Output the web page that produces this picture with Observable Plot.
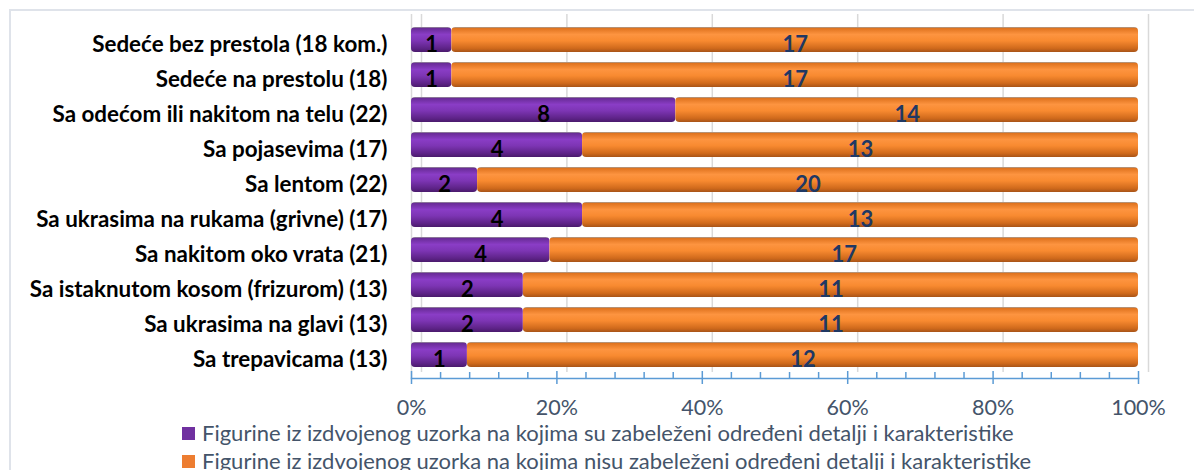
<!DOCTYPE html>
<html>
<head>
<meta charset="utf-8">
<script src="https://cdn.jsdelivr.net/npm/d3@7"></script>
<script src="https://cdn.jsdelivr.net/npm/@observablehq/plot@0.6"></script>
<style>
  html, body { margin: 0; padding: 0; background: #fff; }
  #wrap { position: relative; width: 1194px; height: 470px; overflow: hidden; }
  #frame { position: absolute; left: 9px; top: 9px; width: 1300px; height: 600px; border: 2px solid #dfe3ea; box-sizing: border-box; }
  #chart { position: absolute; left: 0; top: 0; }
  #legend { position: absolute; left: 182px; top: 419px; font-family: "Lato", sans-serif; font-size: 22px; color: #44546a; line-height: 28px; white-space: nowrap; }
  #legend .sw { display: inline-block; width: 13px; height: 13px; margin-right: 7px; vertical-align: 1px; }
</style>
</head>
<body>
<div id="wrap">
  <div id="frame"></div>
  <div id="chart"></div>
  <div id="legend"></div>
</div>
<script>
const categories = [
  "Sedeće bez prestola (18 kom.)",
  "Sedeće na prestolu (18)",
  "Sa odećom ili nakitom na telu (22)",
  "Sa pojasevima (17)",
  "Sa lentom (22)",
  "Sa ukrasima na rukama (grivne) (17)",
  "Sa nakitom oko vrata (21)",
  "Sa istaknutom kosom (frizurom) (13)",
  "Sa ukrasima na glavi (13)",
  "Sa trepavicama (13)"
];
const withDetail    = [1, 1, 8, 4, 2, 4, 4, 2, 2, 1];
const withoutDetail = [17, 17, 14, 13, 20, 13, 17, 11, 11, 12];
const seriesNames = [
  "Figurine iz izdvojenog uzorka na kojima su zabeleženi određeni detalji i karakteristike",
  "Figurine iz izdvojenog uzorka na kojima nisu zabeleženi određeni detalji i karakteristike"
];
const seriesColors = ["#7030a0", "#ed7d31"];
const xTicks = [0, 0.2, 0.4, 0.6, 0.8, 1];
const xMinorTicks = [0.04, 0.08, 0.12, 0.16, 0.24, 0.28, 0.32, 0.36, 0.44, 0.48, 0.52, 0.56, 0.64, 0.68, 0.72, 0.76, 0.84, 0.88, 0.92, 0.96];
const tickLabels = ["0%", "20%", "40%", "60%", "80%", "100%"];

const rows = categories.flatMap((c, i) => [
  {cat: c, series: seriesNames[0], value: withDetail[i]},
  {cat: c, series: seriesNames[1], value: withoutDetail[i]}
]);

const H = 418, MT = 20, MB = 40;
const inner = H - MT - MB;

const plot = Plot.plot({
  width: 1194,
  height: H,
  marginLeft: 411,
  marginRight: 56,
  marginTop: MT,
  marginBottom: MB,
  x: {domain: [0, 1], axis: null},
  y: {domain: categories, range: [21, 373], paddingInner: 0.3, paddingOuter: 0.15, axis: null},
  color: {domain: seriesNames, range: ["url(#gradP)", "url(#gradO)"]},
  style: {fontFamily: "Lato, sans-serif", background: "transparent", overflow: "visible"},
  marks: [
    Plot.ruleX(xTicks, {stroke: "#d9d9d9", strokeWidth: 1.5, dx: 10, insetTop: -6, insetBottom: 6}),
    Plot.ruleX([0], {stroke: "#d9d9d9", strokeWidth: 1.5, insetTop: -6}),
    Plot.barX(rows, Plot.stackX({x: "value", y: "cat", fill: "series", offset: "normalize", rx: 4})),
    Plot.text(rows, Plot.stackX({x: "value", y: "cat", offset: "normalize",
      text: d => d.series === seriesNames[0] ? d.value : "",
      fill: "#000", fontSize: 22, fontWeight: "bold", dy: 5})),
    Plot.text(rows, Plot.stackX({x: "value", y: "cat", offset: "normalize",
      text: d => d.series === seriesNames[1] ? d.value : "",
      fill: "#1f3864", fontSize: 22, fontWeight: "bold", dy: 5})),
    Plot.frame({anchor: "bottom", stroke: "#5b9bd5", strokeWidth: 1.5}),
    Plot.ruleX(xMinorTicks, {stroke: "#5b9bd5", strokeWidth: 1.5, insetTop: inner - 6}),
    Plot.ruleX(xTicks, {stroke: "#5b9bd5", strokeWidth: 1.5, insetTop: inner - 7, insetBottom: -6}),
    Plot.axisX(xTicks, {tickSize: 0, tickPadding: 21, fontSize: 21.5, color: "#44546a", label: null,
      tickFormat: d => tickLabels[xTicks.indexOf(d)]}),
    Plot.axisY({tickSize: 0, tickPadding: 24, fontSize: 22.4, fontWeight: "bold", fill: "#000", label: null, dy: 5})
  ]
});

// gradient definitions for the cylinder look
const svg = d3.select(plot);
const defs = svg.insert("defs", ":first-child");
function grad(id, stops) {
  const g = defs.append("linearGradient").attr("id", id)
    .attr("x1", 0).attr("y1", 0).attr("x2", 0).attr("y2", 1);
  stops.forEach(([o, c]) => g.append("stop").attr("offset", o).attr("stop-color", c));
}
grad("gradP", [[0, "#9a9a9a"], [0.06, "#6a2c98"], [0.3, "#8a3dc6"], [0.55, "#7d35b4"], [0.85, "#5e2388"], [1, "#4a1a6c"]]);
grad("gradO", [[0, "#a0a0a0"], [0.06, "#e07420"], [0.3, "#fd9440"], [0.55, "#f88a30"], [0.85, "#d06a1c"], [1, "#a85418"]]);

document.getElementById("chart").appendChild(plot);

const legend = d3.select("#legend");
seriesNames.forEach((s, i) => {
  const line = legend.append("div");
  line.append("span").attr("class", "sw").style("background", seriesColors[i]);
  line.append("span").text(s);
});
</script>
</body>
</html>
